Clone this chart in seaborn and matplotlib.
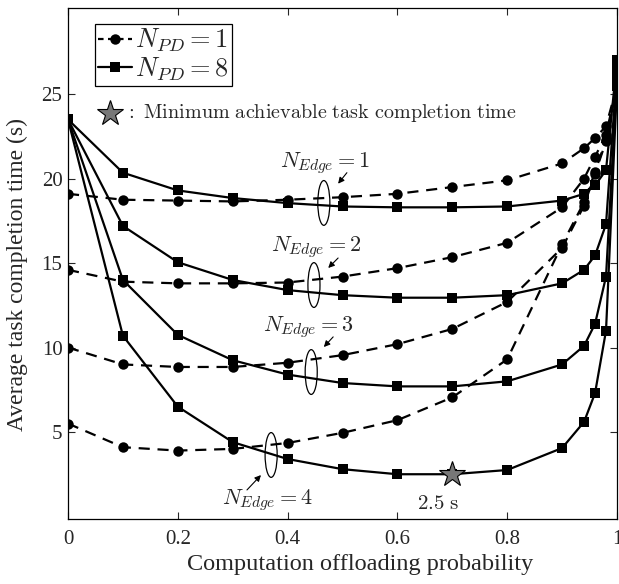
import numpy as np
import pandas as pd
import matplotlib
matplotlib.use("Agg")
import matplotlib.pyplot as plt
from matplotlib.lines import Line2D
from matplotlib.patches import Ellipse
import seaborn as sns

# offloading probabilities (x axis)
prob = [0, 0.1, 0.2, 0.3, 0.4, 0.5, 0.6, 0.7, 0.8, 0.9, 0.94, 0.96, 0.98, 1.0]

# N_PD = 1 (dashed, circles), one list per number of edge servers
pd1_edge1 = [19.1, 18.75, 18.7, 18.65, 18.75, 18.9, 19.1, 19.5, 19.9, 20.9, 21.8, 22.4, 23.1, 25.5]
pd1_edge2 = [14.6, 13.9, 13.8, 13.8, 13.85, 14.2, 14.7, 15.35, 16.2, 18.3, 20.0, 21.3, 22.6, 25.5]
pd1_edge3 = [10.0, 9.0, 8.85, 8.85, 9.1, 9.55, 10.2, 11.1, 12.7, 15.9, 18.4, 20.3, 22.2, 25.5]
pd1_edge4 = [5.5, 4.1, 3.9, 4.0, 4.35, 4.95, 5.7, 7.05, 9.3, 16.1, 18.6, 20.4, 22.3, 25.5]

# N_PD = 8 (solid, squares)
pd8_edge1 = [23.5, 20.35, 19.3, 18.85, 18.55, 18.35, 18.3, 18.3, 18.35, 18.7, 19.1, 19.6, 20.5, 27.0]
pd8_edge2 = [23.5, 17.2, 15.05, 14.0, 13.4, 13.1, 12.95, 12.95, 13.1, 13.8, 14.6, 15.45, 17.3, 26.5]
pd8_edge3 = [23.5, 14.0, 10.75, 9.25, 8.4, 7.9, 7.7, 7.7, 8.0, 9.0, 10.1, 11.4, 14.2, 26.0]
pd8_edge4 = [23.5, 10.7, 6.5, 4.4, 3.4, 2.8, 2.5, 2.5, 2.75, 4.05, 5.6, 7.3, 11.0, 25.5]

min_x, min_y = 0.7, 2.5

yticks = [5, 10, 15, 20, 25]
xticks = [0, 0.2, 0.4, 0.6, 0.8, 1]
xtick_labels = ["0", "0.2", "0.4", "0.6", "0.8", "1"]

sns.set_style("ticks")
plt.rcParams["font.family"] = ["Liberation Serif", "DejaVu Serif"]
plt.rcParams["mathtext.fontset"] = "cm"
plt.rcParams["xtick.direction"] = "in"
plt.rcParams["ytick.direction"] = "in"

fig = plt.figure(figsize=(6.19, 5.84), dpi=100)
ax = fig.add_axes([68 / 619, 1 - 519 / 584, 549 / 619, 511 / 584])

dashed = [pd1_edge1, pd1_edge2, pd1_edge3, pd1_edge4]
solid = [pd8_edge1, pd8_edge2, pd8_edge3, pd8_edge4]

for vals in dashed:
    df = pd.DataFrame({"p": prob, "t": vals})
    sns.lineplot(data=df, x="p", y="t", ax=ax, color="black", linestyle=(0, (5, 3.5)),
                 linewidth=1.6, marker="o", markersize=7.5, markeredgewidth=0,
                 sort=False, legend=False)
for vals in solid:
    df = pd.DataFrame({"p": prob, "t": vals})
    sns.lineplot(data=df, x="p", y="t", ax=ax, color="black", linestyle="-",
                 linewidth=1.6, marker="s", markersize=7.5, markeredgewidth=0,
                 sort=False, legend=False)

# star for the minimum
ax.plot([min_x], [min_y], marker="*", markersize=19, color="#777777",
        markeredgecolor="black", markeredgewidth=0.8, linestyle="none", zorder=5)
ax.text(min_x - 0.025, min_y - 1.8, r"$\mathrm{2.5\ s}$", ha="center", va="center", fontsize=15)

# star note under the legend
ax.plot([0.0765], [23.9], marker="*", markersize=19, color="#777777",
        markeredgecolor="black", markeredgewidth=0.8, linestyle="none", clip_on=False)
ax.text(0.103, 23.9, r"$\mathrm{:\ Minimum\ achievable\ task\ completion\ time}$",
        ha="left", va="center", fontsize=14.5)

# N_Edge annotations: (label, text xy, arrow start, arrow end, ellipse centre)
notes = [
    ("1", (0.468, 20.95), (0.508, 20.35), (0.492, 19.7), (0.466, 18.56)),
    ("2", (0.452, 15.95), (0.492, 15.3), (0.474, 14.71), (0.448, 13.7)),
    ("3", (0.437, 11.2), (0.483, 10.63), (0.466, 10.03), (0.443, 8.55)),
    ("4", (0.364, 0.97), (0.326, 1.57), (0.3515, 2.45), (0.37, 3.64)),
]
for lab, txy, a0, a1, ec in notes:
    ax.text(txy[0], txy[1], r"$N_{Edge}=%s$" % lab, ha="center", va="center", fontsize=16)
    ax.annotate("", xy=a1, xytext=a0,
                arrowprops=dict(arrowstyle="-|>", color="black", lw=0.8,
                                mutation_scale=9, shrinkA=0, shrinkB=0))
    ax.add_patch(Ellipse(ec, width=0.022, height=2.65, fill=False,
                         edgecolor="black", linewidth=0.9, zorder=6))

handles = [
    Line2D([], [], color="black", linestyle=(0, (2.5, 2)), linewidth=1.6, marker="o",
           markersize=7.5, markeredgewidth=0),
    Line2D([], [], color="black", linestyle="-", linewidth=1.6, marker="s",
           markersize=7.5, markeredgewidth=0),
]
leg = ax.legend(handles, [r"$N_{PD}=1$", r"$N_{PD}=8$"], loc="upper left",
                bbox_to_anchor=(0.049, 0.969), fontsize=19, frameon=True, fancybox=False,
                edgecolor="black", framealpha=1, handlelength=1.3, handletextpad=0.1,
                borderpad=0.12, labelspacing=0.02, borderaxespad=0)
leg.get_frame().set_linewidth(0.9)

ax.set_xlim(0, 1)
ax.set_ylim(-0.15, 30.1)
ax.set_xticks(xticks)
ax.set_xticklabels(xtick_labels)
ax.set_yticks(yticks)
ax.tick_params(axis="both", which="both", direction="in", top=True, right=True,
               length=5, width=0.8, labelsize=15)
ax.tick_params(axis="x", pad=8)
ax.tick_params(axis="y", pad=4)
for s in ax.spines.values():
    s.set_linewidth(0.9)
    s.set_color("black")

ax.set_xlabel("Computation offloading probability", fontsize=17.5)
ax.set_ylabel("Average task completion time (s)", fontsize=17)
ax.xaxis.set_label_coords(0.532, -0.068)
ax.yaxis.set_label_coords(-0.072, 0.478)

fig.savefig("out.png", dpi=100)
